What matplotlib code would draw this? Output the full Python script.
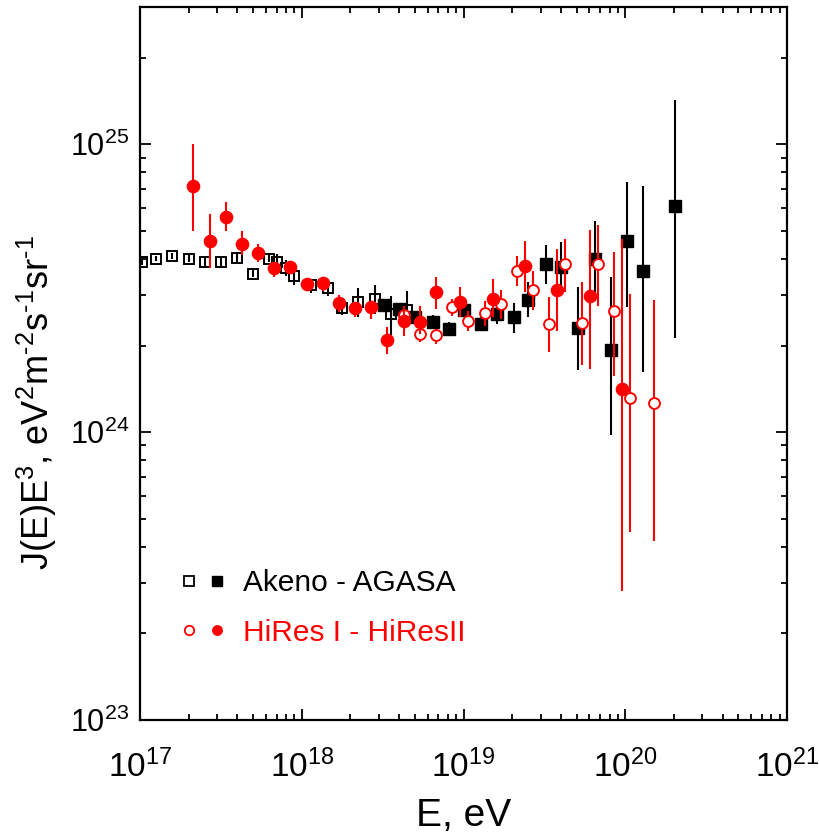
import numpy as np
import matplotlib
matplotlib.use('Agg')
import matplotlib.pyplot as plt
from matplotlib.ticker import LogLocator, NullFormatter
from matplotlib.lines import Line2D
from matplotlib.legend_handler import HandlerTuple

plt.rcParams['font.family'] = ['Liberation Sans', 'DejaVu Sans']
plt.rcParams['mathtext.fontset'] = 'custom'
plt.rcParams['mathtext.rm'] = 'Liberation Sans'
plt.rcParams['mathtext.it'] = 'Liberation Sans:italic'
plt.rcParams['mathtext.bf'] = 'Liberation Sans:bold'
plt.rcParams['mathtext.default'] = 'regular'

# ---- data: log10(E/eV), J(E)E^3 in units of 1e24 eV^2 m^-2 s^-1 sr^-1 ----
akeno_logE = [17.01, 17.10, 17.20, 17.30, 17.40, 17.50, 17.60, 17.70, 17.80, 17.85,
              17.90, 17.95, 18.06, 18.16, 18.25, 18.35, 18.45, 18.55, 18.65]
akeno_J = [3.90, 4.01, 4.09, 4.01, 3.90, 3.90, 4.03, 3.55, 4.01, 3.90,
           3.73, 3.48, 3.24, 3.18, 2.70, 2.83, 2.91, 2.58, 2.65]
akeno_lo = [3.80, 3.92, 4.00, 3.90, 3.78, 3.77, 3.90, 3.45, 3.90, 3.65,
            3.50, 3.25, 3.05, 2.98, 2.55, 2.52, 2.58, 2.16, 2.34]
akeno_hi = [4.00, 4.10, 4.18, 4.12, 4.02, 4.03, 4.16, 3.65, 4.12, 4.15,
            3.97, 3.72, 3.40, 3.35, 2.85, 3.18, 3.25, 2.98, 3.10]

agasa_logE = [18.51, 18.60, 18.70, 18.81, 18.91, 19.00, 19.11, 19.21, 19.31, 19.40,
              19.51, 19.60, 19.71, 19.81, 19.91, 20.01, 20.11, 20.31]
agasa_J = [2.77, 2.68, 2.51, 2.41, 2.29, 2.66, 2.38, 2.58, 2.51, 2.89,
           3.83, 3.75, 2.30, 3.98, 1.93, 4.60, 3.63, 6.11]
agasa_lo = [2.65, 2.57, 2.40, 2.28, 2.16, 2.54, 2.25, 2.38, 2.21, 2.52,
            3.28, 3.15, 1.64, 2.91, 0.98, 2.72, 1.62, 2.13]
agasa_hi = [2.90, 2.80, 2.62, 2.55, 2.42, 2.80, 2.52, 2.80, 2.82, 3.33,
            4.46, 4.59, 3.20, 5.41, 3.47, 7.37, 7.18, 14.23]

hires1_logE = [17.33, 17.43, 17.53, 17.63, 17.73, 17.83, 17.93, 18.03, 18.13, 18.23, 18.33,
               18.43, 18.53, 18.63, 18.73, 18.83, 18.98, 19.18, 19.38, 19.58, 19.78, 19.98]
hires1_J = [7.16, 4.62, 5.57, 4.52, 4.20, 3.73, 3.76, 3.28, 3.30, 2.81, 2.70,
            2.72, 2.09, 2.44, 2.42, 3.07, 2.84, 2.91, 3.78, 3.13, 2.98, 1.41]
hires1_lo = [4.99, 3.73, 4.98, 4.14, 3.91, 3.47, 3.55, 3.10, 3.10, 2.62, 2.52,
             2.48, 1.87, 2.16, 2.20, 2.68, 2.52, 2.52, 3.07, 2.24, 1.66, 0.28]
hires1_hi = [10.0, 5.75, 6.28, 4.98, 4.52, 3.91, 3.94, 3.41, 3.47, 3.00, 2.84,
             2.86, 2.32, 2.68, 2.75, 3.47, 3.20, 3.41, 4.60, 4.34, 5.03, 4.68]

hires2_logE = [18.63, 18.73, 18.83, 18.93, 19.03, 19.13, 19.23, 19.33, 19.43, 19.53,
               19.63, 19.73, 19.83, 19.93, 20.03, 20.18]
hires2_J = [2.56, 2.20, 2.18, 2.72, 2.44, 2.60, 2.78, 3.63, 3.11, 2.37,
            3.83, 2.40, 3.83, 2.63, 1.31, 1.26]
hires2_lo = [2.32, 2.06, 2.03, 2.54, 2.25, 2.34, 2.48, 3.23, 2.65, 1.90,
             3.08, 1.71, 2.75, 1.57, 0.45, 0.42]
hires2_hi = [2.75, 2.34, 2.29, 2.91, 2.64, 2.86, 3.12, 4.10, 3.62, 2.95,
             4.70, 3.33, 5.23, 4.24, 3.03, 2.87]

x_ticks_exp = [17, 18, 19, 20, 21]
y_ticks_exp = [23, 24, 25]
legend_labels = ['Akeno - AGASA', 'HiRes I - HiResII']

RED = '#ff0000'
unit = 1e24


def series(logE, J, lo, hi):
    E = 10.0 ** np.asarray(logE)
    J = np.asarray(J) * unit
    err = np.vstack([J - np.asarray(lo) * unit, np.asarray(hi) * unit - J])
    return E, J, err


fig = plt.figure(figsize=(8.2, 8.36), dpi=100)
ax = fig.add_axes([140 / 820, 1 - 720 / 836, 647 / 820, 713 / 836])

E, J, err = series(akeno_logE, akeno_J, akeno_lo, akeno_hi)
ax.errorbar(E, J, yerr=err, fmt='s', ms=7.8, mfc='none', mec='black', mew=1.4,
            ecolor='black', elinewidth=1.5, capsize=0, zorder=2)
E, J, err = series(agasa_logE, agasa_J, agasa_lo, agasa_hi)
ax.errorbar(E, J, yerr=err, fmt='s', ms=8.0, mfc='black', mec='black', mew=1.0,
            ecolor='black', elinewidth=1.5, capsize=0, zorder=3)
E, J, err = series(hires2_logE, hires2_J, hires2_lo, hires2_hi)
ax.errorbar(E, J, yerr=err, fmt='o', ms=7.8, mfc='white', mec=RED, mew=1.4,
            ecolor=RED, elinewidth=1.5, capsize=0, zorder=4)
E, J, err = series(hires1_logE, hires1_J, hires1_lo, hires1_hi)
ax.errorbar(E, J, yerr=err, fmt='o', ms=8.8, mfc=RED, mec=RED, mew=1.0,
            ecolor=RED, elinewidth=1.5, capsize=0, zorder=5)

ax.set_xscale('log')
ax.set_yscale('log')
ax.set_xlim(10.0 ** x_ticks_exp[0], 10.0 ** x_ticks_exp[-1])
ax.set_ylim(1e23, 3e25)
ax.set_xticks([10.0 ** e for e in x_ticks_exp])
ax.set_yticks([10.0 ** e for e in y_ticks_exp])
ax.set_xticklabels([r'$10^{%d}$' % e for e in x_ticks_exp])
ax.set_yticklabels([r'$10^{%d}$' % e for e in y_ticks_exp])
ax.xaxis.set_minor_locator(LogLocator(base=10, subs=np.arange(2, 10), numticks=50))
ax.yaxis.set_minor_locator(LogLocator(base=10, subs=np.arange(2, 10), numticks=50))
ax.xaxis.set_minor_formatter(NullFormatter())
ax.yaxis.set_minor_formatter(NullFormatter())

ax.tick_params(which='both', direction='in', top=True, right=True, width=1.3, color='black')
ax.tick_params(which='major', length=8)
ax.tick_params(which='minor', length=4.5)
ax.tick_params(axis='x', which='major', labelsize=24, pad=21)
ax.tick_params(axis='y', which='major', labelsize=22, pad=8)
for sp in ax.spines.values():
    sp.set_linewidth(1.6)

ax.set_xlabel('E, eV', fontsize=28)
ax.xaxis.set_label_coords(0.5, -0.11)
ax.set_ylabel(r'J(E)E$^{3}$, eV$^{2}$m$^{\text{-2}}$s$^{\text{-1}}$sr$^{\text{-1}}$', fontsize=26)
ax.yaxis.set_label_coords(-0.125, 0.445)

h1o = Line2D([], [], marker='s', ls='none', mfc='none', mec='black', ms=6.5, mew=1.3)
h1f = Line2D([], [], marker='s', ls='none', mfc='black', mec='black', ms=6.5)
h2o = Line2D([], [], marker='o', ls='none', mfc='white', mec=RED, ms=6.8, mew=1.3)
h2f = Line2D([], [], marker='o', ls='none', mfc=RED, mec=RED, ms=6.8)
leg = ax.legend([(h1o, h1f), (h2o, h2f)], legend_labels,
                handler_map={tuple: HandlerTuple(ndivide=None, pad=0)},
                loc='center left', bbox_to_anchor=(0.054, 0.157),
                frameon=False, fontsize=21.5, handlelength=1.87,
                handletextpad=0.4, labelspacing=0.72, borderpad=0, borderaxespad=0)
for t, c in zip(leg.get_texts(), ['black', RED]):
    t.set_color(c)

fig.savefig('out.png', dpi=100)
